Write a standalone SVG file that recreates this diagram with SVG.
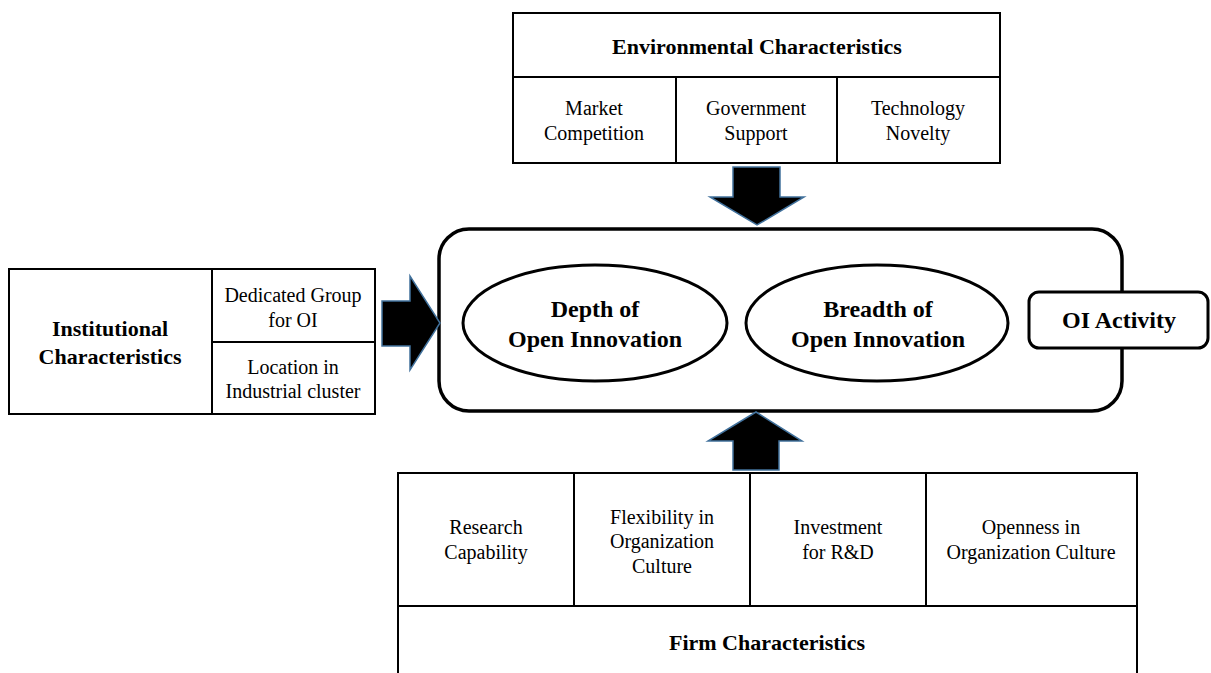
<svg xmlns="http://www.w3.org/2000/svg" width="1211" height="673" viewBox="0 0 1211 673">
<style>
.box{fill:#fff;stroke:#000;stroke-width:2}
.ln{stroke:#000;stroke-width:2;fill:none}
.arrow{fill:#000;stroke:#41719C;stroke-width:1.5;stroke-linejoin:miter}
text{font-family:"Liberation Serif","Times New Roman",serif;fill:#000;text-anchor:middle}
.t{font-size:20px}
.b{font-size:22px;font-weight:bold}
.bb{font-size:24px;font-weight:bold}
</style>
<rect x="0" y="0" width="1211" height="673" fill="#fff"/>

<g id="environmental">
<rect class="box" x="513" y="13" width="487" height="150"/>
<line class="ln" x1="513" y1="77" x2="1000" y2="77"/>
<line class="ln" x1="676" y1="77" x2="676" y2="163"/>
<line class="ln" x1="837" y1="77" x2="837" y2="163"/>
<text class="b" x="757" y="54">Environmental Characteristics</text>
<text class="t" x="594" y="115">Market</text>
<text class="t" x="594" y="140">Competition</text>
<text class="t" x="756" y="115">Government</text>
<text class="t" x="756" y="140">Support</text>
<text class="t" x="918" y="115">Technology</text>
<text class="t" x="918" y="140">Novelty</text>
</g>

<g id="institutional">
<rect class="box" x="9" y="269" width="366" height="145"/>
<line class="ln" x1="212" y1="269" x2="212" y2="414"/>
<line class="ln" x1="212" y1="342" x2="375" y2="342"/>
<text class="b" x="110" y="336">Institutional</text>
<text class="b" x="110" y="364">Characteristics</text>
<text class="t" x="293" y="302">Dedicated Group</text>
<text class="t" x="293" y="327">for OI</text>
<text class="t" x="293" y="374">Location in</text>
<text class="t" x="293" y="398">Industrial cluster</text>
</g>

<g id="oi-core">
<rect x="439" y="229" width="683" height="182" rx="30" ry="30" fill="#fff" stroke="#000" stroke-width="3.5"/>
</g>

<g id="depth">
<ellipse cx="595" cy="323" rx="132" ry="58" fill="#fff" stroke="#000" stroke-width="3"/>
<text class="bb" x="595" y="317">Depth of</text>
<text class="bb" x="595" y="347">Open Innovation</text>
</g>

<g id="breadth">
<ellipse cx="877" cy="323" rx="131" ry="58" fill="#fff" stroke="#000" stroke-width="3"/>
<text class="bb" x="878" y="317">Breadth of</text>
<text class="bb" x="878" y="347">Open Innovation</text>
</g>

<g id="oi-activity">
<rect x="1029" y="292" width="179" height="56" rx="10" ry="10" fill="#fff" stroke="#000" stroke-width="3"/>
<text class="bb" x="1119" y="328">OI Activity</text>
</g>

<g id="firm">
<rect class="box" x="398" y="473" width="739" height="210"/>
<line class="ln" x1="398" y1="606" x2="1137" y2="606"/>
<line class="ln" x1="574" y1="473" x2="574" y2="606"/>
<line class="ln" x1="750" y1="473" x2="750" y2="606"/>
<line class="ln" x1="926" y1="473" x2="926" y2="606"/>
<text class="t" x="486" y="534">Research</text>
<text class="t" x="486" y="559">Capability</text>
<text class="t" x="662" y="524">Flexibility in</text>
<text class="t" x="662" y="548">Organization</text>
<text class="t" x="662" y="573">Culture</text>
<text class="t" x="838" y="534">Investment</text>
<text class="t" x="838" y="559">for R&amp;D</text>
<text class="t" x="1031" y="534">Openness in</text>
<text class="t" x="1031" y="559">Organization Culture</text>
<text class="b" x="767" y="650">Firm Characteristics</text>
</g>

<g id="connectors">
<polygon class="arrow" points="733,167 780,167 780,197 804,197 757,225 710,197 733,197"/>
<polygon class="arrow" points="733,470 779,470 779,441 802,441 756,412 708,441 733,441"/>
<polygon class="arrow" points="382,301 410,301 410,276 440,323 410,370 410,346 382,346"/>
</g>
</svg>
